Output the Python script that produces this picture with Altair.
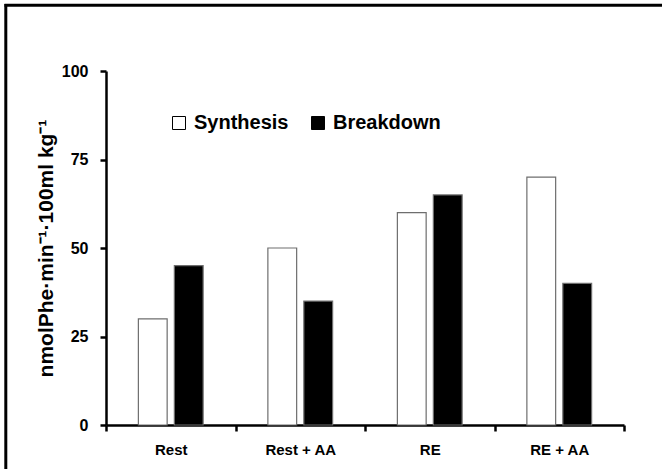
import altair as alt
import pandas as pd

categories = ["Rest", "Rest + AA", "RE", "RE + AA"]
series = ["Synthesis", "Breakdown"]
synthesis = [30, 50, 60, 70]
breakdown = [45, 35, 65, 40]
y_ticks = [0, 25, 50, 75, 100]
y_title = "nmolPhe·min⁻¹·100ml kg⁻¹"

rows = []
for c, s, b in zip(categories, synthesis, breakdown):
    rows.append({"condition": c, "series": "Synthesis", "value": s})
    rows.append({"condition": c, "series": "Breakdown", "value": b})
df = pd.DataFrame(rows)

FONT = "Liberation Sans"

bars = alt.Chart(df).mark_bar(stroke="#6e6e6e", strokeWidth=1.2).encode(
    x=alt.X(
        "condition:N",
        sort=categories,
        scale=alt.Scale(paddingInner=0, paddingOuter=0),
        axis=alt.Axis(
            title=None, labelAngle=0, tickBand="extent", labelFontSize=15,
            labelFontWeight="bold", labelPadding=11, tickSize=6,
        ),
    ),
    xOffset=alt.XOffset(
        "series:N", sort=series,
        scale=alt.Scale(paddingInner=0.2, paddingOuter=0.9),
    ),
    y=alt.Y(
        "value:Q",
        scale=alt.Scale(domain=[0, 100], nice=False, zero=True),
        axis=alt.Axis(
            values=y_ticks, title=y_title, grid=False, labelFontSize=16,
            labelFontWeight="bold", labelPadding=12, tickSize=6,
            titleFontSize=21, titleFontWeight="bold", titlePadding=5,
        ),
    ),
    fill=alt.Fill(
        "series:N", sort=series,
        scale=alt.Scale(domain=series, range=["white", "black"]),
        legend=alt.Legend(
            title=None, orient="none", legendX=63, legendY=42,
            direction="horizontal", symbolType="square", symbolSize=169,
            symbolStrokeColor="black", symbolStrokeWidth=1,
            labelFontSize=20, labelFontWeight="bold", labelFont=FONT,
            labelColor="black", labelOffset=5, columnPadding=19,
        ),
    ),
)

frame_df = pd.DataFrame({"k": [0]})
frame_top = alt.Chart(frame_df).mark_rule(color="black", strokeWidth=3).encode(
    x=alt.value(-101.5), x2=alt.value(560), y=alt.value(-65.7)
)
frame_left = alt.Chart(frame_df).mark_rule(color="black", strokeWidth=3).encode(
    x=alt.value(-100.2), y=alt.value(-67), y2=alt.value(400)
)

chart = alt.layer(bars, frame_top, frame_left).properties(
    width=518, height=354,
    autosize=alt.AutoSizeParams(type="none"),
    padding={"left": 106, "top": 71, "right": 38, "bottom": 44},
).configure(
    font=FONT,
    background="white",
).configure_view(
    stroke=None,
).configure_axis(
    domainColor="black", domainWidth=2.5, tickColor="black", tickWidth=2.5,
    labelColor="black", titleColor="black", labelFont=FONT, titleFont=FONT,
)

chart.save("out.html", embed_options={"renderer": "svg", "actions": False})
